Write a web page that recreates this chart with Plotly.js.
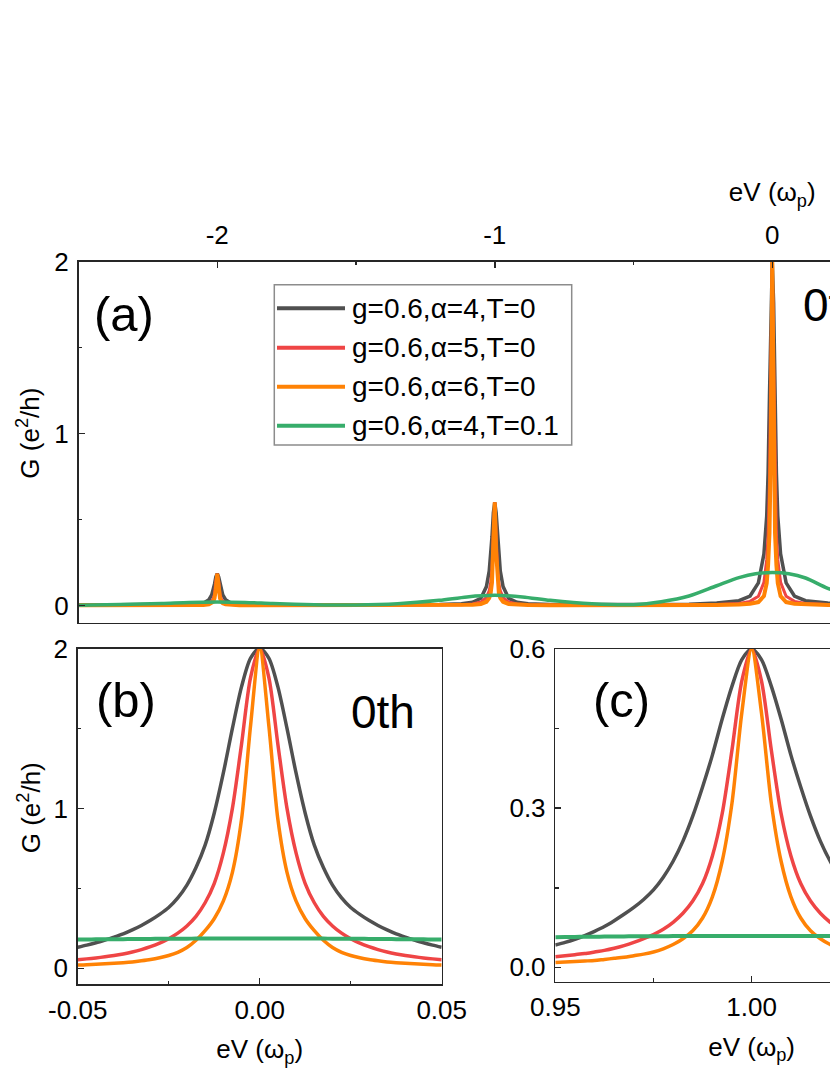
<!DOCTYPE html>
<html>
<head>
<meta charset="utf-8">
<script src="https://cdn.plot.ly/plotly-3.0.1.min.js"></script>
<style>
  html, body { margin: 0; padding: 0; overflow: hidden; background: #fff; }
  #chart { width: 1500px; height: 1075px; }
</style>
</head>
<body>
<div id="chart"></div>
<script>
// panel (a): full bias sweep
const xA = [-2.5, -2.35, -2.2, -2.12, -2.08, -2.05, -2.03, -2.02, -2.015, -2.01, -2.005, -2.0,
  -1.995, -1.99, -1.985, -1.98, -1.97, -1.95, -1.92, -1.88, -1.8,
  -1.65, -1.5, -1.35, -1.2,
  -1.12, -1.08, -1.05, -1.03, -1.02, -1.015, -1.01, -1.005, -1.0,
  -0.995, -0.99, -0.985, -0.98, -0.97, -0.95, -0.92, -0.88, -0.8,
  -0.65, -0.5, -0.4, -0.3, -0.2,
  -0.12, -0.08, -0.05, -0.03, -0.02, -0.015, -0.01, -0.005, 0,
  0.005, 0.01, 0.015, 0.02, 0.03, 0.05, 0.08, 0.12, 0.2, 0.3];
const gA_a4 = [0.003, 0.003, 0.004, 0.005, 0.007, 0.013, 0.034, 0.062, 0.088, 0.124, 0.167, 0.185,
  0.167, 0.124, 0.088, 0.062, 0.034, 0.013, 0.007, 0.005, 0.004,
  0.004, 0.004, 0.004, 0.006,
  0.01, 0.019, 0.042, 0.11, 0.20, 0.285, 0.40, 0.54, 0.6,
  0.54, 0.40, 0.285, 0.20, 0.11, 0.042, 0.019, 0.01, 0.006,
  0.005, 0.005, 0.006, 0.008, 0.014,
  0.028, 0.055, 0.132, 0.30, 0.52, 0.77, 1.22, 1.76, 2.0,
  1.76, 1.22, 0.77, 0.52, 0.30, 0.132, 0.055, 0.028, 0.014, 0.008];
const gA_a5 = [0.002, 0.002, 0.002, 0.002, 0.003, 0.006, 0.014, 0.026, 0.038, 0.065, 0.143, 0.185,
  0.143, 0.065, 0.038, 0.026, 0.014, 0.006, 0.003, 0.002, 0.002,
  0.002, 0.002, 0.002, 0.003,
  0.005, 0.009, 0.02, 0.047, 0.085, 0.125, 0.21, 0.41, 0.6,
  0.41, 0.21, 0.125, 0.085, 0.047, 0.02, 0.009, 0.005, 0.003,
  0.002, 0.002, 0.003, 0.004, 0.006,
  0.012, 0.024, 0.054, 0.135, 0.265, 0.41, 0.72, 1.40, 2.0,
  1.40, 0.72, 0.41, 0.265, 0.135, 0.054, 0.024, 0.012, 0.006, 0.004];
const gA_a6 = [0.001, 0.001, 0.001, 0.001, 0.002, 0.003, 0.007, 0.013, 0.021, 0.042, 0.093, 0.185,
  0.093, 0.042, 0.021, 0.013, 0.007, 0.003, 0.002, 0.001, 0.001,
  0.001, 0.001, 0.001, 0.002,
  0.003, 0.004, 0.009, 0.022, 0.043, 0.069, 0.133, 0.31, 0.6,
  0.31, 0.133, 0.069, 0.043, 0.022, 0.009, 0.004, 0.003, 0.002,
  0.001, 0.001, 0.001, 0.002, 0.003,
  0.006, 0.01, 0.02, 0.055, 0.13, 0.235, 0.42, 0.93, 2.0,
  0.93, 0.42, 0.235, 0.13, 0.055, 0.02, 0.01, 0.006, 0.003, 0.002];
// T=0.1 curve is broad, read on its own coarser grid
const xA_T = [-2.5, -2.35, -2.2, -2.1, -2.0, -1.9, -1.8, -1.65, -1.5, -1.35, -1.2, -1.1, -1.0,
  -0.9, -0.8, -0.65, -0.5, -0.4, -0.3, -0.2, -0.12, -0.06, 0, 0.06, 0.12, 0.2, 0.3];
const gA_T01 = [0.002, 0.006, 0.012, 0.018, 0.02, 0.018, 0.012, 0.005, 0.003, 0.01, 0.03, 0.05, 0.059,
  0.05, 0.03, 0.01, 0.005, 0.022, 0.055, 0.115, 0.162, 0.185, 0.192, 0.185, 0.16, 0.1, 0.045];

// panel (b): zoom on the 0th peak
const xB = [-0.05, -0.0475, -0.045, -0.0425, -0.04, -0.0375, -0.035, -0.0325, -0.03, -0.0275,
  -0.025, -0.0225, -0.02, -0.0175, -0.015, -0.0125, -0.01, -0.0075, -0.005, -0.0025, 0,
  0.0025, 0.005, 0.0075, 0.01, 0.0125, 0.015, 0.0175, 0.02, 0.0225, 0.025,
  0.0275, 0.03, 0.0325, 0.035, 0.0375, 0.04, 0.0425, 0.045, 0.0475, 0.05];
const gB_a4 = [0.132, 0.145, 0.16, 0.177, 0.195, 0.215, 0.24, 0.268, 0.30, 0.337,
  0.38, 0.44, 0.52, 0.63, 0.77, 0.97, 1.22, 1.50, 1.76, 1.94, 2.0,
  1.94, 1.76, 1.50, 1.22, 0.97, 0.77, 0.63, 0.52, 0.44, 0.38,
  0.337, 0.30, 0.268, 0.24, 0.215, 0.195, 0.177, 0.16, 0.145, 0.132];
const gB_a5 = [0.054, 0.059, 0.065, 0.072, 0.08, 0.09, 0.102, 0.117, 0.135, 0.157,
  0.185, 0.22, 0.265, 0.325, 0.41, 0.53, 0.72, 1.0, 1.40, 1.82, 2.0,
  1.82, 1.40, 1.0, 0.72, 0.53, 0.41, 0.325, 0.265, 0.22, 0.185,
  0.157, 0.135, 0.117, 0.102, 0.09, 0.08, 0.072, 0.065, 0.059, 0.054];
const gB_a6 = [0.02, 0.022, 0.025, 0.028, 0.031, 0.035, 0.04, 0.047, 0.055, 0.066,
  0.08, 0.10, 0.13, 0.175, 0.235, 0.31, 0.42, 0.60, 0.93, 1.52, 2.0,
  1.52, 0.93, 0.60, 0.42, 0.31, 0.235, 0.175, 0.13, 0.10, 0.08,
  0.066, 0.055, 0.047, 0.04, 0.035, 0.031, 0.028, 0.025, 0.022, 0.02];
const gB_T01 = [0.18, 0.1805, 0.181, 0.1815, 0.182, 0.1825, 0.183, 0.1835, 0.184, 0.1845,
  0.185, 0.1853, 0.1855, 0.1858, 0.186, 0.186, 0.186, 0.186, 0.186, 0.186, 0.186,
  0.186, 0.186, 0.186, 0.186, 0.186, 0.186, 0.1858, 0.1855, 0.1853, 0.185,
  0.1845, 0.184, 0.1835, 0.183, 0.1825, 0.182, 0.1815, 0.181, 0.1805, 0.18];

// panel (c): zoom on the 1st peak
const xC = [0.95, 0.9525, 0.955, 0.9575, 0.96, 0.9625, 0.965, 0.9675, 0.97, 0.9725,
  0.975, 0.9775, 0.98, 0.9825, 0.985, 0.9875, 0.99, 0.9925, 0.995, 0.9975, 1.0,
  1.0025, 1.005, 1.0075, 1.01, 1.0125, 1.015, 1.0175, 1.02, 1.0225, 1.025,
  1.0275, 1.03, 1.0325, 1.035, 1.0375, 1.04, 1.0425, 1.045, 1.0475, 1.05];
const gC_a4 = [0.042, 0.047, 0.053, 0.06, 0.068, 0.077, 0.088, 0.10, 0.113, 0.128,
  0.146, 0.17, 0.20, 0.238, 0.285, 0.34, 0.40, 0.468, 0.53, 0.58, 0.6,
  0.58, 0.53, 0.468, 0.40, 0.34, 0.285, 0.238, 0.20, 0.17, 0.146,
  0.128, 0.113, 0.10, 0.088, 0.077, 0.068, 0.06, 0.053, 0.047, 0.042];
const gC_a5 = [0.02, 0.022, 0.024, 0.026, 0.029, 0.032, 0.036, 0.041, 0.047, 0.054,
  0.062, 0.072, 0.085, 0.102, 0.125, 0.158, 0.21, 0.29, 0.41, 0.54, 0.6,
  0.54, 0.41, 0.29, 0.21, 0.158, 0.125, 0.102, 0.085, 0.072, 0.062,
  0.054, 0.047, 0.041, 0.036, 0.032, 0.029, 0.026, 0.024, 0.022, 0.02];
const gC_a6 = [0.009, 0.01, 0.011, 0.012, 0.013, 0.015, 0.017, 0.019, 0.022, 0.025,
  0.029, 0.035, 0.043, 0.054, 0.069, 0.093, 0.133, 0.20, 0.31, 0.48, 0.6,
  0.48, 0.31, 0.20, 0.133, 0.093, 0.069, 0.054, 0.043, 0.035, 0.029,
  0.025, 0.022, 0.019, 0.017, 0.015, 0.013, 0.012, 0.011, 0.01, 0.009];
const gC_T01 = [0.057, 0.0572, 0.0574, 0.0576, 0.0578, 0.058, 0.0582, 0.0584, 0.0585, 0.0586,
  0.0587, 0.0588, 0.0589, 0.059, 0.059, 0.059, 0.059, 0.059, 0.059, 0.059, 0.059,
  0.059, 0.059, 0.059, 0.059, 0.059, 0.059, 0.059, 0.0589, 0.0588, 0.0587,
  0.0586, 0.0585, 0.0584, 0.0582, 0.058, 0.0578, 0.0576, 0.0574, 0.0572, 0.057];

const seriesNames = ['g=0.6,\u03b1=4,T=0', 'g=0.6,\u03b1=5,T=0', 'g=0.6,\u03b1=6,T=0', 'g=0.6,\u03b1=4,T=0.1'];
const colors = ['#505050', '#ef4545', '#ff8205', '#37ad6b'];

const tickA_x = [-2, -1, 0, 1, 2];
const tickA_xText = ['-2', '-1', '0', '1', '2'];
const tickG = [0, 1, 2];
const tickG_text = ['0', '1', '2'];
const tickB_x = [-0.05, 0, 0.05];
const tickB_xText = ['-0.05', '0.00', '0.05'];
const tickC_x = [0.95, 1.0, 1.05];
const tickC_xText = ['0.95', '1.00', '1.05'];
const tickC_y = [0, 0.3, 0.6];
const tickC_yText = ['0.0', '0.3', '0.6'];

const W = 1500, H = 1075;
const FONT = 'Liberation Sans, Arial, sans-serif';
const px = v => v / W;
const py = v => 1 - v / H;

const panels = [
  {xs: [xA, xA, xA, xA_T], ys: [gA_a4, gA_a5, gA_a6, gA_T01], xa: 'x', ya: 'y',
   widths: [3.5, 3, 4, 3.5], shapes: ['linear', 'linear', 'linear', 'spline']},
  {xs: [xB, xB, xB, xB], ys: [gB_a4, gB_a5, gB_a6, gB_T01], xa: 'x2', ya: 'y2',
   widths: [3.5, 3.5, 3.5, 4], shapes: ['spline', 'spline', 'spline', 'spline']},
  {xs: [xC, xC, xC, xC], ys: [gC_a4, gC_a5, gC_a6, gC_T01], xa: 'x3', ya: 'y3',
   widths: [3.5, 3.5, 3.5, 4], shapes: ['spline', 'spline', 'spline', 'spline']}
];

const data = [];
panels.forEach(p => {
  p.ys.forEach((y, i) => {
    data.push({
      x: p.xs[i], y: y, xaxis: p.xa, yaxis: p.ya, type: 'scatter', mode: 'lines',
      name: seriesNames[i], showlegend: false,
      line: {color: colors[i], width: p.widths[i], shape: p.shapes[i], smoothing: 0.8}
    });
  });
});

const axisBase = {
  showline: true, linecolor: '#262626', linewidth: 1.5, mirror: true,
  ticks: 'inside', ticklen: 6, tickwidth: 1.5, tickcolor: '#262626',
  showgrid: false, zeroline: false, tickmode: 'array',
  tickfont: {family: FONT, size: 26, color: '#000'}
};
const minorBase = {ticks: 'inside', ticklen: 3.5, tickwidth: 1.5, tickcolor: '#262626', tickmode: 'array'};
const titleFont = {family: FONT, size: 26, color: '#000'};

const layout = {
  width: W, height: H,
  margin: {l: 0, r: 0, t: 0, b: 0},
  paper_bgcolor: '#fff', plot_bgcolor: '#fff',
  showlegend: false,
  font: {family: FONT, color: '#000'},
  xaxis: Object.assign({}, axisBase, {
    domain: [px(78.5), px(1466)], range: [-2.5, 2.5], anchor: 'y', side: 'top',
    tickvals: tickA_x, ticktext: tickA_xText, ticklabelstandoff: 6,
    minor: Object.assign({}, minorBase, {tickvals: [-2.5, -1.5, -0.5, 0.5, 1.5]}),
    title: {text: 'eV (\u03c9<sub>p</sub>)', font: titleFont, standoff: 10}
  }),
  yaxis: Object.assign({}, axisBase, {
    domain: [py(622.7), py(261.7)], range: [-0.1, 2], anchor: 'x',
    tickvals: tickG, ticktext: tickG_text, ticklabelstandoff: 3,
    minor: Object.assign({}, minorBase, {tickvals: [0.5, 1.5]})
  }),
  xaxis2: Object.assign({}, axisBase, {
    domain: [px(77.7), px(441.7)], range: [-0.05, 0.05], anchor: 'y2',
    tickvals: tickB_x, ticktext: tickB_xText, ticklabelstandoff: 2,
    minor: Object.assign({}, minorBase, {tickvals: [-0.025, 0.025]}),
    title: {text: 'eV (\u03c9<sub>p</sub>)', font: titleFont, standoff: 16}
  }),
  yaxis2: Object.assign({}, axisBase, {
    domain: [py(984.3), py(648.5)], range: [-0.1, 2], anchor: 'x2',
    tickvals: tickG, ticktext: tickG_text, ticklabelstandoff: 3,
    minor: Object.assign({}, minorBase, {tickvals: [0.5, 1.5]})
  }),
  xaxis3: Object.assign({}, axisBase, {
    domain: [px(555.3), px(948)], range: [0.95, 1.05], anchor: 'y3',
    tickvals: tickC_x, ticktext: tickC_xText, ticklabelstandoff: 2,
    minor: Object.assign({}, minorBase, {tickvals: [0.975, 1.025]}),
    title: {text: 'eV (\u03c9<sub>p</sub>)', font: titleFont, standoff: 16}
  }),
  yaxis3: Object.assign({}, axisBase, {
    domain: [py(981.7), py(649)], range: [-0.027, 0.6], anchor: 'x3',
    tickvals: tickC_y, ticktext: tickC_yText, ticklabelstandoff: 3,
    minor: Object.assign({}, minorBase, {tickvals: [0.15, 0.45]})
  }),
  shapes: [],
  annotations: []
};

// legend box drawn in panel (a)
const legBox = {x0: 274.3, x1: 571.7, y0: 284.7, y1: 445};
const legRows = [308.3, 347.7, 386.7, 425.7];
layout.shapes.push({
  type: 'rect', xref: 'paper', yref: 'paper',
  x0: px(legBox.x0), x1: px(legBox.x1), y0: py(legBox.y1), y1: py(legBox.y0),
  line: {color: '#8c8c8c', width: 1.5}, fillcolor: 'rgba(0,0,0,0)'
});
legRows.forEach((ry, i) => {
  layout.shapes.push({
    type: 'line', xref: 'paper', yref: 'paper',
    x0: px(277), x1: px(345), y0: py(ry), y1: py(ry),
    line: {color: colors[i], width: 4}
  });
  layout.annotations.push({
    xref: 'paper', yref: 'paper', x: px(350), y: py(ry),
    xanchor: 'left', yanchor: 'middle', showarrow: false,
    text: seriesNames[i], font: {family: FONT, size: 28, color: '#000'}
  });
});

// y titles sit centred on the 0..2 tick span, as in the reference
const yTitles = [{x: 29, y: 433.7}, {x: 29, y: 808.3}];
yTitles.forEach(t => {
  layout.annotations.push({
    xref: 'paper', yref: 'paper', x: px(t.x), y: py(t.y),
    xanchor: 'center', yanchor: 'middle', showarrow: false, textangle: -90,
    text: 'G (e<sup>2</sup>/h)', font: titleFont
  });
});

const labels = [
  {t: '(a)', x: 124, y: 314, size: 49, anchor: 'center'},
  {t: '0th', x: 801, y: 305, size: 46, anchor: 'left'},
  {t: '(b)', x: 126, y: 700, size: 49, anchor: 'center'},
  {t: '0th', x: 349, y: 712, size: 46, anchor: 'left'},
  {t: '(c)', x: 621, y: 700, size: 49, anchor: 'center'}
];
labels.forEach(l => {
  layout.annotations.push({
    xref: 'paper', yref: 'paper', x: px(l.x), y: py(l.y),
    xanchor: l.anchor, yanchor: 'middle', showarrow: false,
    text: l.t, font: {family: FONT, size: l.size, color: '#000'}
  });
});

Plotly.newPlot('chart', data, layout, {staticPlot: true, displayModeBar: false});
</script>
</body>
</html>
